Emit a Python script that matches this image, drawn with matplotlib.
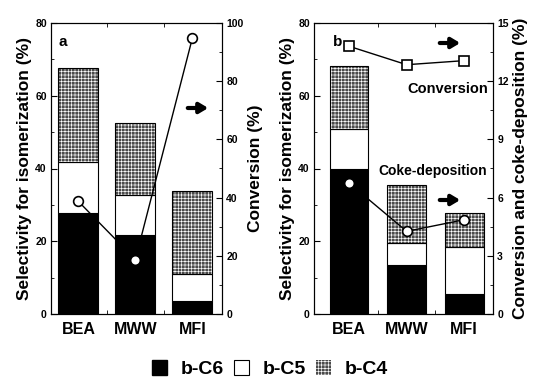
import matplotlib
matplotlib.use("Agg")
import matplotlib.pyplot as plt
from matplotlib.patches import Patch
from matplotlib.ticker import MultipleLocator, FixedLocator
import numpy as np

plt.rcParams['font.family'] = ['Liberation Sans', 'DejaVu Sans']
plt.rcParams['font.weight'] = 'bold'
plt.rcParams['hatch.linewidth'] = 0.45

categories = ["BEA", "MWW", "MFI"]

# Panel a: stacked segments (selectivity %)
a_c6 = [27.8, 21.6, 3.5]
a_c5 = [14.0, 11.2, 7.5]
a_c4 = [25.8, 19.7, 22.9]
a_conversion = [38.7, 18.7, 94.8]

# Panel b
b_c6 = [40.0, 13.6, 5.6]
b_c5 = [10.9, 5.9, 12.8]
b_c4 = [17.4, 16.1, 9.4]
b_conversion = [13.8, 12.85, 13.06]
b_coke = [6.75, 4.26, 4.86]

HATCH_FACE = '#4a4a4a'
HATCH = '+++++'
LABEL_FS = 12.5

def stacked(ax, c6, c5, c4, width):
    x = np.arange(len(categories))
    c6 = np.array(c6); c5 = np.array(c5); c4 = np.array(c4)
    ax.bar(x, c6, width, color='black', edgecolor='black', lw=0.8, zorder=2)
    ax.bar(x, c5, width, bottom=c6, color='white', edgecolor='black', lw=0.8, zorder=2)
    ax.bar(x, c4, width, bottom=c6 + c5, color=HATCH_FACE, edgecolor='white',
           hatch=HATCH, lw=0, zorder=2)
    ax.bar(x, c4, width, bottom=c6 + c5, color='none', edgecolor='black', lw=0.8, zorder=2.1)
    return x

def style(ax, ax2, xlim):
    ax.set_xlim(*xlim)
    ax.set_ylim(0, 80)
    ax.yaxis.set_major_locator(MultipleLocator(20))
    ax.yaxis.set_minor_locator(MultipleLocator(10))
    ax.set_xticks(range(3))
    ax.set_xticklabels(categories, fontsize=11.5, fontweight='bold')
    ax.tick_params(axis='x', which='major', length=0, pad=6)
    ax.xaxis.set_minor_locator(FixedLocator([0.5, 1.5]))
    ax.tick_params(axis='x', which='minor', direction='in', length=3, top=True)
    ax.tick_params(axis='y', which='both', direction='in', labelsize=7.5, pad=3)
    ax.tick_params(axis='y', which='major', length=4)
    ax.tick_params(axis='y', which='minor', length=2)
    ax2.tick_params(axis='y', which='both', direction='in', labelsize=7.5, pad=3)
    ax2.tick_params(axis='y', which='major', length=4)
    ax2.tick_params(axis='y', which='minor', length=2)
    for a in (ax, ax2):
        for lab in a.get_yticklabels():
            lab.set_fontweight('bold')
    ax.set_ylabel("Selectivity for isomerization (%)", fontsize=LABEL_FS, fontweight='bold', labelpad=2)

def arrow(ax, x0, x1, y):
    ax.annotate("", xy=(x1, 382 - y), xytext=(x0, 382 - y), xycoords='figure pixels',
                textcoords='figure pixels',
                arrowprops=dict(arrowstyle='-|>,head_length=0.5,head_width=0.3', lw=3, color='black'))

fig = plt.figure(figsize=(5.35, 3.82), dpi=100)

# Panel a
axa = fig.add_axes([51/535, 68/382, 171/535, 291/382])
xa = stacked(axa, a_c6, a_c5, a_c4, 0.7)
axa2 = axa.twinx()
axa2.plot(xa, a_conversion, '-', color='black', lw=1, marker='o', ms=7,
          mfc='white', mec='black', mew=1.2, zorder=3)
axa2.set_ylim(0, 100)
axa2.yaxis.set_major_locator(MultipleLocator(20))
axa2.yaxis.set_minor_locator(MultipleLocator(10))
style(axa, axa2, (-0.48, 2.52))
axa2.set_ylabel("Conversion (%)", fontsize=LABEL_FS, fontweight='bold', labelpad=3)
axa.text(0.07, 0.935, "a", transform=axa.transAxes, fontsize=11, fontweight='bold', va='center', ha='center')
arrow(axa, 185, 211, 108)

# Panel b
axb = fig.add_axes([314/535, 68/382, 179/535, 291/382])
xb = stacked(axb, b_c6, b_c5, b_c4, 0.67)
axb2 = axb.twinx()
axb2.plot(xb, b_conversion, '-', color='black', lw=1, marker='s', ms=7,
          mfc='white', mec='black', mew=1.2, zorder=3)
axb2.plot(xb, b_coke, '-', color='black', lw=1, marker='o', ms=7,
          mfc='white', mec='black', mew=1.2, zorder=3)
axb2.set_ylim(0, 15)
axb2.yaxis.set_major_locator(MultipleLocator(3))
axb2.yaxis.set_minor_locator(MultipleLocator(1.5))
style(axb, axb2, (-0.61, 2.5))
axb2.set_ylabel("Conversion and coke-deposition (%)", fontsize=LABEL_FS, fontweight='bold', labelpad=3)
axb.text(0.13, 0.935, "b", transform=axb.transAxes, fontsize=11, fontweight='bold', va='center', ha='center')
axb.text(488, 382 - 89, "Conversion", transform=None, fontsize=10.5, fontweight='bold',
         va='center', ha='right')
axb.text(487, 382 - 171, "Coke-deposition", transform=None, fontsize=10, fontweight='bold',
         va='center', ha='right')
arrow(axb, 437, 463, 43)
arrow(axb, 437, 463, 200)

# Legend
handles = [Patch(facecolor='black', edgecolor='black', label='b-C6'),
           Patch(facecolor='white', edgecolor='black', lw=0.8, label='b-C5'),
           Patch(facecolor=HATCH_FACE, edgecolor='white', hatch=HATCH, lw=0, label='b-C4')]
leg = fig.legend(handles=handles, loc='center', bbox_to_anchor=(270/535, 1 - 369/382),
                 ncol=3, frameon=False, fontsize=14, handlelength=0.8, handleheight=0.8,
                 handletextpad=0.7, columnspacing=0.5)
for t in leg.get_texts():
    t.set_fontweight('bold')

fig.savefig("out.png", dpi=100)
